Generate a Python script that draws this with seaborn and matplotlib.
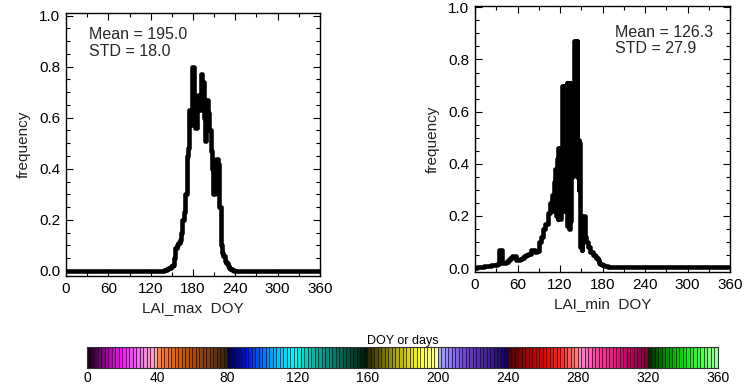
import numpy as np
import pandas as pd
import matplotlib
matplotlib.use("Agg")
import matplotlib.pyplot as plt
from matplotlib.colors import LinearSegmentedColormap
from matplotlib.ticker import MultipleLocator
import seaborn as sns

# ---------------- data ----------------
max_days = [0, 20, 40, 60, 80, 100, 120, 130, 138, 140, 142, 144, 146, 148, 150, 152, 154, 156, 158,
            160, 162, 164, 166, 168, 170, 172, 174, 176, 178, 180, 182, 184, 186, 188, 190,
            192, 194, 196, 198, 200, 202, 204, 206, 208, 210, 212, 214, 216, 218, 220, 222,
            224, 226, 228, 230, 232, 234, 236, 240, 260, 280, 300, 320, 340, 360]
max_freq = [0.0, 0.0, 0.0, 0.0, 0.0, 0.0, 0.0, 0.0, 0.0, 0.002, 0.005, 0.008, 0.01, 0.012, 0.02, 0.025, 0.05, 0.09, 0.10,
            0.11, 0.12, 0.15, 0.20, 0.23, 0.30, 0.45, 0.48, 0.63, 0.57, 0.80, 0.60, 0.56, 0.65, 0.69, 0.63,
            0.77, 0.74, 0.60, 0.51, 0.67, 0.62, 0.55, 0.47, 0.40, 0.30, 0.33, 0.44, 0.42, 0.25, 0.10, 0.07,
            0.06, 0.04, 0.03, 0.02, 0.01, 0.006, 0.003, 0.0, 0.0, 0.0, 0.0, 0.0, 0.0, 0.0]

min_days = [0, 5, 10, 15, 20, 25, 30, 33, 34, 36, 38, 39, 42, 45, 48, 51, 53, 56, 59, 62, 65, 68, 71,
            74, 77, 80, 83, 86, 89, 92, 95, 98, 101, 104, 107, 110,
            111, 112, 113, 114, 115, 116, 117, 118, 119, 120, 121, 122, 123, 124, 125, 126, 127,
            128, 129, 130, 131, 132, 133, 134, 135, 136, 137, 138, 139, 140, 141, 142, 143, 144,
            145, 146, 147, 148, 149, 150, 151, 152, 154, 156, 158, 160, 162, 164, 166, 168, 170,
            172, 174, 176, 178, 180, 185, 190, 200, 220, 260, 300, 360]
min_freq = [0.0, 0.005, 0.005, 0.008, 0.008, 0.01, 0.012, 0.015, 0.07, 0.07, 0.07, 0.02, 0.02, 0.025,
            0.03, 0.04, 0.045, 0.045, 0.03, 0.03, 0.035, 0.04, 0.045, 0.05, 0.055, 0.07, 0.07, 0.06,
            0.065, 0.10, 0.12, 0.15, 0.17, 0.21, 0.25, 0.28,
            0.22, 0.33, 0.25, 0.38, 0.20, 0.42, 0.19, 0.46, 0.20, 0.46, 0.19, 0.45, 0.26, 0.70, 0.22,
            0.70, 0.25, 0.69, 0.24, 0.71, 0.16, 0.71, 0.15, 0.71, 0.18, 0.45, 0.35, 0.60, 0.40, 0.87,
            0.40, 0.87, 0.36, 0.87, 0.35, 0.49, 0.30, 0.48, 0.08, 0.10, 0.07, 0.20, 0.20, 0.12, 0.10,
            0.08, 0.08, 0.06, 0.06, 0.05, 0.045, 0.04, 0.03, 0.02, 0.015, 0.012, 0.008, 0.005, 0.004,
            0.003, 0.003, 0.003, 0.003]

stats_max = ["Mean = 195.0", "STD = 18.0"]
stats_min = ["Mean = 126.3", "STD = 27.9"]
xlabels = ["LAI_max  DOY", "LAI_min  DOY"]
x_ticks = [0, 60, 120, 180, 240, 300, 360]
cbar_ticks = [0, 40, 80, 120, 160, 200, 240, 280, 320, 360]

# colour anchors for each 40-day block of the DOY colour bar
block_colors = [
    ["#200020", "#9a009a", "#ff10ff", "#f070f0", "#ffa8b8"],
    ["#ff8040", "#e06000", "#b04800", "#7a3a10", "#3a2008"],
    ["#000050", "#0010e0", "#0070ff", "#00c8ff", "#00ffff"],
    ["#00e8d8", "#00b0a0", "#008070", "#005038", "#001a08"],
    ["#302c00", "#807c00", "#c8c000", "#ffff20", "#ffffa0"],
    ["#a8a8ff", "#8060f0", "#6030c0", "#402090", "#100060"],
    ["#580000", "#a00000", "#e00000", "#ff2020", "#ff8070"],
    ["#ff88c8", "#ff40a0", "#f01880", "#c00060", "#800038"],
    ["#003000", "#009000", "#00e000", "#40ff40", "#a0ffa0"],
]

# ---------------- figure ----------------
sns.set_theme(style="white")
plt.rcParams["font.family"] = ["Liberation Sans", "DejaVu Sans"]

fig = plt.figure(figsize=(7.52, 3.85), dpi=100)
W, H = 752.0, 385.0

def axes_px(x0, y0, x1, y1):
    return fig.add_axes([x0 / W, 1 - y1 / H, (x1 - x0) / W, (y1 - y0) / H])

ax1 = axes_px(66, 13, 320, 276)
ax2 = axes_px(475, 6, 730, 272)

panels = [
    (ax1, max_days, max_freq, stats_max, xlabels[0], (-0.02, 1.01), 0.09, (0.920, 0.852)),
    (ax2, min_days, min_freq, stats_min, xlabels[1], (-0.015, 1.005), 0.549, (0.902, 0.842)),
]

for ax, d, f, st, xl, yl, tx, ty in panels:
    df = pd.DataFrame({"day": d, "freq": f})
    sns.lineplot(data=df, x="day", y="freq", ax=ax, color="black", lw=3.3,
                 drawstyle="steps-mid", estimator=None, sort=True)
    ax.set_xlim(0, 360)
    ax.set_ylim(*yl)
    ax.set_xticks(x_ticks)
    ax.xaxis.set_minor_locator(MultipleLocator(30))
    ax.set_yticks([0.0, 0.2, 0.4, 0.6, 0.8, 1.0])
    ax.set_yticklabels(["0.0", "0.2", "0.4", "0.6", "0.8", "1.0"])
    ax.yaxis.set_minor_locator(MultipleLocator(0.05))
    ax.tick_params(which="both", direction="in", top=True, right=True, bottom=True, left=True,
                   color="black", labelsize=11, labelcolor="black", pad=4)
    ax.tick_params(which="major", length=5, width=0.8)
    ax.tick_params(which="minor", length=3, width=0.8)
    for s in ax.spines.values():
        s.set_color("black")
        s.set_linewidth(1.0)
        s.set_visible(True)
    ax.set_xlabel(xl, fontsize=11, color="#222222", labelpad=4)
    ax.set_ylabel("frequency", fontsize=11, color="#222222", labelpad=6)
    ax.text(tx, ty[0], st[0], transform=ax.transAxes, fontsize=11.5, ha="left", va="center")
    ax.text(tx, ty[1], st[1], transform=ax.transAxes, fontsize=11.5, ha="left", va="center")

# ---------------- DOY colour bar ----------------
cax = axes_px(87, 347, 718, 368)
stripe_cols = []
for cols in block_colors:
    cmap = LinearSegmentedColormap.from_list("blk", cols)
    for k in range(20):
        stripe_cols.append(cmap(k / 19.0))
edges = np.arange(0, 362, 2)
for i, c in enumerate(stripe_cols):
    cax.axvspan(edges[i], edges[i + 1], color=c, ec="black", lw=0.4)
cax.set_xlim(0, 360)
cax.set_ylim(0, 1)
cax.set_yticks([])
cax.set_xticks(cbar_ticks)
cax.tick_params(axis="x", length=0, labelsize=10, pad=2, labelcolor="black")
for s in cax.spines.values():
    s.set_color("#333333")
    s.set_linewidth(0.8)
    s.set_visible(True)
cax.set_title("DOY or days", fontsize=9, pad=2, color="black")

fig.savefig("out.png", dpi=100)
